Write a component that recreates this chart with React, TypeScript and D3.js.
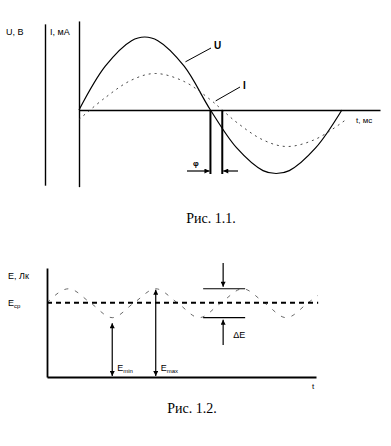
import React, { useEffect, useRef } from "react";
import * as d3 from "d3";

// Fig 1.1 - voltage and current vs time (ms)
const uTime = [0, 1, 2, 2.5, 3, 4, 5, 6, 7, 7.5, 8, 9, 10];
const uValues = [0, 0.6, 0.95, 1, 0.95, 0.6, 0, -0.52, -0.83, -0.87, -0.83, -0.52, 0];
const iTime = [0, 1, 2, 2.9, 4, 5, 5.45, 6, 7, 7.9, 9, 10.2];
const iValues = [-0.26, 0.34, 0.82, 1.0, 0.78, 0.28, 0, -0.34, -0.82, -1.0, -0.8, -0.24];
const phaseLag = [5, 5.45]; // zero crossings of U and I

// Fig 1.2 - illuminance ripple
const eTime = [0, 1, 2, 3, 4, 5, 6, 7, 8, 9, 10, 11, 12, 12.45];
const eValues = [1, 1.19, 1, 0.8, 1, 1.19, 1, 0.8, 1, 1.19, 1, 0.8, 1, 1.1];
const eAvg = 1;
const eMin = 0.8;
const eMax = 1.19;

const W = 391;
const H = 446;

export default function App() {
  const ref = useRef<SVGSVGElement>(null);

  useEffect(() => {
    const svg = d3.select(ref.current);
    svg.selectAll("*").remove();

    const defs = svg.append("defs");
    defs.append("marker")
      .attr("id", "arr")
      .attr("viewBox", "0 0 10 10")
      .attr("refX", 10)
      .attr("refY", 5)
      .attr("markerWidth", 7)
      .attr("markerHeight", 5)
      .attr("markerUnits", "userSpaceOnUse")
      .attr("orient", "auto-start-reverse")
      .append("path")
      .attr("d", "M0,0L10,5L0,10z")
      .attr("fill", "#000");

    const font = "'Liberation Sans', Arial, sans-serif";

    // ---------- top chart ----------
    const xT = d3.scaleLinear().domain([0, 11.45]).range([79, 380]);
    const yU = d3.scaleLinear().domain([-1, 1]).range([183, 37]);
    const yI = d3.scaleLinear().domain([-2, 2]).range([183, 37]);

    const top = svg.append("g");

    top.append("g")
      .attr("transform", `translate(0,${yU(0)})`)
      .call(d3.axisBottom(xT).tickValues([]).tickSizeOuter(0))
      .select(".domain").attr("stroke-width", 1.6);

    const yAxU = d3.scaleLinear().domain([-1.03, 1.18]).range([yU(-1.03), yU(1.18)]);
    const yAxI = d3.scaleLinear().domain([-1.05, 1.22]).range([yU(-1.05), yU(1.22)]);
    top.append("g")
      .attr("transform", "translate(45,0)")
      .call(d3.axisLeft(yAxU).tickValues([]).tickSizeOuter(0))
      .select(".domain").attr("stroke-width", 1.4);
    top.append("g")
      .attr("transform", `translate(${xT(0)},0)`)
      .call(d3.axisLeft(yAxI).tickValues([]).tickSizeOuter(0))
      .select(".domain").attr("stroke-width", 1.4);

    const lineU = d3.line<number>()
      .x((_, i) => xT(uTime[i]))
      .y((d) => yU(d))
      .curve(d3.curveCatmullRom);
    top.append("path")
      .attr("d", lineU(uValues))
      .attr("fill", "none")
      .attr("stroke", "#000")
      .attr("stroke-width", 1.2);

    const lineI = d3.line<number>()
      .x((_, i) => xT(iTime[i]))
      .y((d) => yI(d))
      .curve(d3.curveCatmullRom);
    top.append("path")
      .attr("d", lineI(iValues))
      .attr("fill", "none")
      .attr("stroke", "#333")
      .attr("stroke-width", 0.9)
      .attr("stroke-dasharray", "2 4");

    // phase shift markers
    phaseLag.forEach((t) => {
      top.append("line")
        .attr("x1", xT(t)).attr("x2", xT(t))
        .attr("y1", yU(0)).attr("y2", 174)
        .attr("stroke", "#000").attr("stroke-width", 2);
    });
    top.append("line")
      .attr("x1", 187).attr("x2", xT(phaseLag[0]) - 1)
      .attr("y1", 171).attr("y2", 171)
      .attr("stroke", "#000").attr("stroke-width", 1.2)
      .attr("marker-end", "url(#arr)");
    top.append("line")
      .attr("x1", 238).attr("x2", xT(phaseLag[1]) + 1)
      .attr("y1", 171).attr("y2", 171)
      .attr("stroke", "#000").attr("stroke-width", 1.2)
      .attr("marker-end", "url(#arr)");
    top.append("text")
      .attr("x", 193).attr("y", 166)
      .attr("font-family", font).attr("font-size", 8).attr("font-weight", "bold")
      .text("φ");

    // curve labels
    top.append("line")
      .attr("x1", xT(4.05)).attr("y1", yU(0.66))
      .attr("x2", 211).attr("y2", 48)
      .attr("stroke", "#000").attr("stroke-width", 1);
    top.append("text")
      .attr("x", 214).attr("y", 49)
      .attr("font-family", font).attr("font-size", 10).attr("font-weight", "bold")
      .text("U");
    top.append("line")
      .attr("x1", xT(5.2)).attr("y1", yI(0.25))
      .attr("x2", 240).attr("y2", 87)
      .attr("stroke", "#000").attr("stroke-width", 1);
    top.append("text")
      .attr("x", 243).attr("y", 89)
      .attr("font-family", font).attr("font-size", 10).attr("font-weight", "bold")
      .text("I");

    top.append("text")
      .attr("x", 6).attr("y", 35)
      .attr("font-family", font).attr("font-size", 9)
      .text("U, B");
    top.append("text")
      .attr("x", 50).attr("y", 35)
      .attr("font-family", font).attr("font-size", 9)
      .text("I, мА");
    top.append("text")
      .attr("x", 356).attr("y", 123)
      .attr("font-family", font).attr("font-size", 8)
      .text("t, мс");

    svg.append("text")
      .attr("x", 211).attr("y", 223)
      .attr("text-anchor", "middle")
      .attr("font-family", "'Liberation Serif', 'Times New Roman', serif")
      .attr("font-size", 14)
      .text("Рис. 1.1.");

    // ---------- bottom chart ----------
    const xB = d3.scaleLinear().domain([0, 12.37]).range([47, 316]);
    const yE = d3.scaleLinear().domain([0, 1.47]).range([377, 268]);
    const bot = svg.append("g");

    bot.append("g")
      .attr("transform", `translate(0,${yE(0)})`)
      .call(d3.axisBottom(xB).tickValues([]).tickSizeOuter(0))
      .select(".domain").attr("stroke-width", 1.8);
    bot.append("g")
      .attr("transform", `translate(${xB(0)},0)`)
      .call(d3.axisLeft(yE).tickValues([]).tickSizeOuter(0))
      .select(".domain").attr("stroke-width", 1.8);

    const lineE = d3.line<number>()
      .x((_, i) => xB(eTime[i]))
      .y((d) => yE(d))
      .curve(d3.curveMonotoneX);
    bot.append("path")
      .attr("d", lineE(eValues))
      .attr("fill", "none")
      .attr("stroke", "#444")
      .attr("stroke-width", 0.8)
      .attr("stroke-dasharray", "4 7");

    bot.append("line")
      .attr("x1", xB(0)).attr("x2", xB(12.47))
      .attr("y1", yE(eAvg)).attr("y2", yE(eAvg))
      .attr("stroke", "#000").attr("stroke-width", 2)
      .attr("stroke-dasharray", "5 4");

    // Emin / Emax arrows
    const vArrow = (t: number, v: number) => {
      bot.append("line")
        .attr("x1", xB(t)).attr("x2", xB(t))
        .attr("y1", yE(0) - 1).attr("y2", yE(v) + 1)
        .attr("stroke", "#000").attr("stroke-width", 1.2)
        .attr("marker-start", "url(#arr)")
        .attr("marker-end", "url(#arr)");
    };
    vArrow(3, eMin - 0.06);
    vArrow(5, eMax);

    const sub = (x: number, y: number, main: string, s: string) => {
      const t = bot.append("text")
        .attr("x", x).attr("y", y)
        .attr("font-family", font).attr("font-size", 9);
      t.append("tspan").text(main);
      t.append("tspan").attr("font-size", 6).attr("dy", 2).text(s);
    };
    sub(xB(3) + 5, 371, "E", "min");
    sub(xB(5) + 5, 371, "E", "max");
    sub(8, 306, "E", "ср");

    bot.append("text")
      .attr("x", 8).attr("y", 279)
      .attr("font-family", font).attr("font-size", 9)
      .text("E, Лк");
    bot.append("text")
      .attr("x", 312).attr("y", 389)
      .attr("font-family", font).attr("font-size", 8)
      .text("t");

    // delta E
    const xd = xB(8.1);
    [eMax, eMin].forEach((v) => {
      bot.append("line")
        .attr("x1", xd - 20).attr("x2", xd + 22)
        .attr("y1", yE(v)).attr("y2", yE(v))
        .attr("stroke", "#000").attr("stroke-width", 1.2);
    });
    bot.append("line")
      .attr("x1", xd).attr("x2", xd)
      .attr("y1", 263).attr("y2", yE(eMax) - 2)
      .attr("stroke", "#000").attr("stroke-width", 1.2)
      .attr("marker-end", "url(#arr)");
    bot.append("line")
      .attr("x1", xd).attr("x2", xd)
      .attr("y1", 345).attr("y2", yE(eMin) + 2)
      .attr("stroke", "#000").attr("stroke-width", 1.2)
      .attr("marker-end", "url(#arr)");
    bot.append("text")
      .attr("x", xd + 10).attr("y", 338)
      .attr("font-family", font).attr("font-size", 9)
      .text("ΔE");

    svg.append("text")
      .attr("x", 192).attr("y", 413)
      .attr("text-anchor", "middle")
      .attr("font-family", "'Liberation Serif', 'Times New Roman', serif")
      .attr("font-size", 14)
      .text("Рис. 1.2.");
  }, []);

  return (
    <svg
      ref={ref}
      width={W}
      height={H}
      style={{ position: "absolute", left: 0, top: 0, background: "#fff" }}
    />
  );
}
